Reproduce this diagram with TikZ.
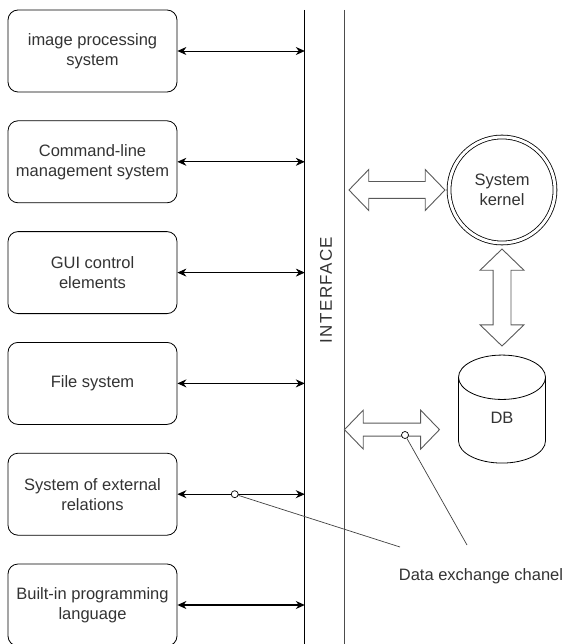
\documentclass[tikz,border=0pt]{standalone}
\usepackage{fontspec}
\setmainfont{Liberation Sans}
\usetikzlibrary{shapes.geometric, shapes.arrows, arrows.meta, positioning}

\begin{document}
\begin{tikzpicture}[
    x=1pt, y=-1pt,
    node distance=28pt,
    font=\fontsize{16.5}{20}\selectfont,
    box/.style={draw, rectangle, rounded corners=10pt, minimum width=169pt, minimum height=82pt, align=center, text=black!80, line width=0.8pt},
    link/.style={{Stealth[length=9pt,width=8pt]}-{Stealth[length=9pt,width=8pt]}, line width=0.8pt},
    fatarrow/.style={draw=black!65, double arrow, double arrow tip angle=92, inner sep=8pt, double arrow head extend=12pt, line width=0.9pt},
    dot/.style={draw, circle, inner sep=0pt, minimum size=7pt, fill=white, line width=0.7pt},
    note/.style={draw=black!75, line width=0.7pt}
]
\useasboundingbox (0,0) rectangle (565,644);

% subsystems on the left
\node[box] (img) at (92.5,51) {image processing\\system};
\node[box, below=of img] (cmd) {Command-line\\management system};
\node[box, below=of cmd] (gui) {GUI control\\elements};
\node[box, below=of gui] (fs) {File system};
\node[box, below=of fs] (ext) {System of external\\relations};
\node[box, below=of ext] (lang) {Built-in programming\\language};

% interface strip
\node[minimum width=39pt, minimum height=650pt, inner sep=0pt] (iface) at (324.5,335) {};
\draw[line width=1.3pt] (iface.north west) -- (iface.south west);
\draw[black!70, line width=0.9pt] (iface.north east) -- (iface.south east);
\node[rotate=90, text=black!80, font=\fontsize{17}{20}\selectfont\addfontfeature{LetterSpace=8}] (ifacetext) at (326,290) {INTERFACE};

\draw[link] (img.east) -- (img.east -| iface.west);
\draw[link] (cmd.east) -- (cmd.east -| iface.west);
\draw[link] (gui.east) -- (gui.east -| iface.west);
\draw[link, line width=1.3pt] (fs.east) -- (fs.east -| iface.west);
\draw[link, line width=1.1pt] (ext.east) -- (ext.east -| iface.west)
    node[dot, pos=0.45] (dotext) {};
\draw[link, line width=1.1pt] (lang.east) -- (lang.east -| iface.west);

% kernel and database
\node[draw, circle, double, double distance=3pt, line width=0.8pt, minimum size=106pt, align=center, text=black!80] (kernel) at (502,190) {System\\kernel};
\node[fatarrow, minimum height=96pt, left=3pt of kernel] (chkernel) {};
\node[fatarrow, shape border rotate=90, inner sep=8.5pt, double arrow head extend=13pt, minimum height=97pt, below=5pt of kernel] (chdb) {};
\node[draw, cylinder, shape border rotate=90, aspect=1.5, minimum width=87pt, minimum height=108pt, line width=0.8pt, text=black!80, below=8pt of chdb] (db) {\raisebox{13pt}{DB}};
\node[fatarrow, inner sep=6pt, double arrow head extend=13pt, minimum height=95pt, left=18pt of db, yshift=-5pt] (chlow) {};

% callout
\node[dot] (dotch) at (405,435) {};
\node[text=black!80] (chanel) at (481,576) {Data exchange chanel};
\coordinate (e1) at (400,547);
\coordinate (e2) at (467,545);
\draw[note] (dotext) -- (e1);
\draw[note] (dotch) -- (e2);

\end{tikzpicture}
\end{document}
